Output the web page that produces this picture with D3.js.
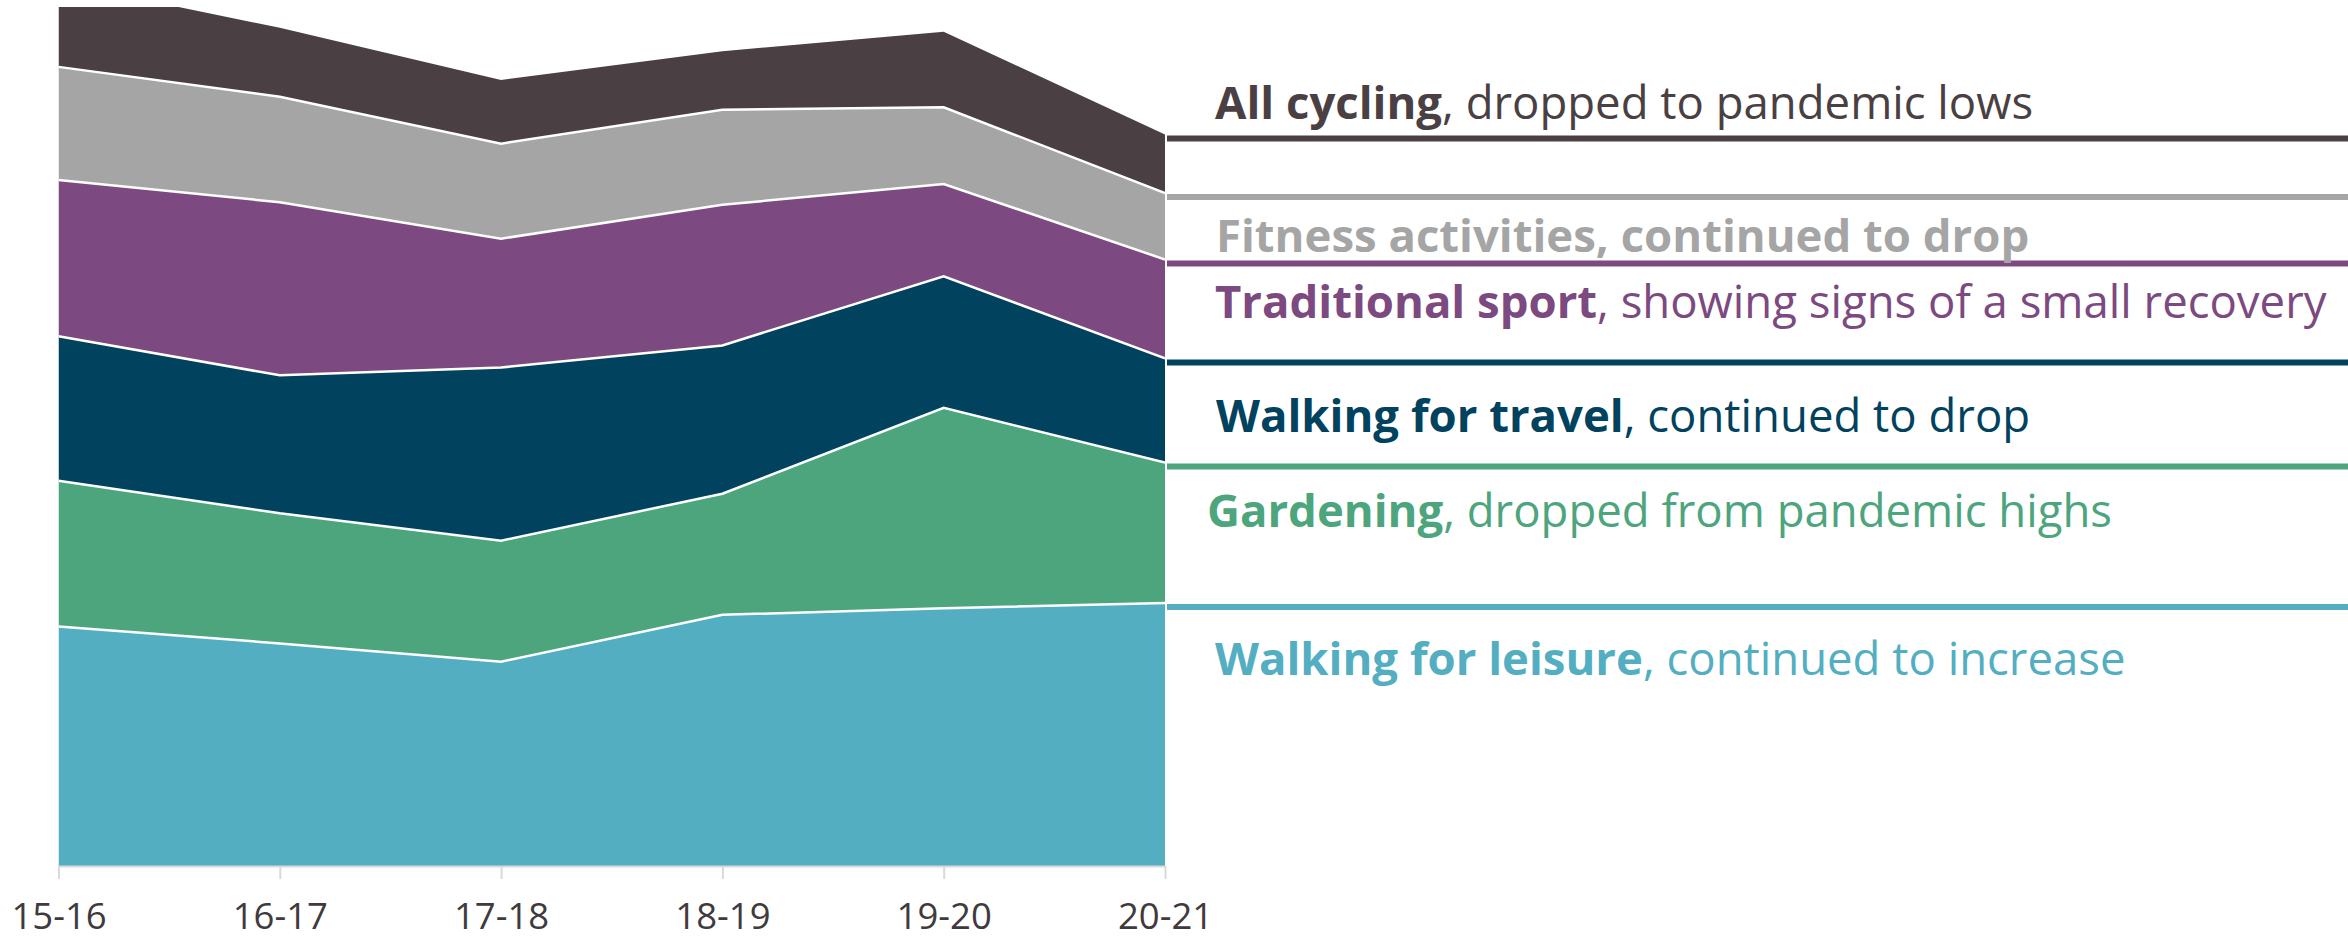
<!DOCTYPE html>
<html>
<head>
<meta charset="utf-8">
<script src="https://cdn.jsdelivr.net/npm/d3@7"></script>
<style>
  html, body { margin: 0; padding: 0; background: #ffffff; }
  svg { display: block; }
</style>
</head>
<body>
<svg id="chart" width="2348" height="940"></svg>
<script>
// ---- Data (approx. millions of adults) ----
const years = ["15-16", "16-17", "17-18", "18-19", "19-20", "20-21"];
const walkingLeisure = [18.4, 17.1, 15.7, 19.3, 19.8, 20.2];
const gardening      = [11.2, 10.0, 9.3, 9.3, 15.4, 10.8];
const walkingTravel  = [11.1, 10.6, 13.3, 11.4, 10.1, 8.0];
const traditionalSport = [12.0, 13.3, 9.9, 10.8, 7.1, 7.6];
const fitness        = [8.7, 8.1, 7.3, 7.3, 5.9, 5.1];
const allCycling     = [6.5, 5.3, 4.9, 4.5, 5.8, 4.5];

const seriesKeys = ["leisure", "gardening", "travel", "sport", "fitness", "cycling"];
const seriesValues = {
  leisure: walkingLeisure, gardening: gardening, travel: walkingTravel,
  sport: traditionalSport, fitness: fitness, cycling: allCycling
};
const seriesColors = {
  leisure: "#53aec2", gardening: "#4ca57d", travel: "#01425e",
  sport: "#7c4980", fitness: "#a5a5a5", cycling: "#4a4043"
};
const labelBold = {
  leisure: "Walking for leisure", gardening: "Gardening", travel: "Walking for travel",
  sport: "Traditional sport", fitness: "Fitness activities, continued to drop", cycling: "All cycling"
};
const labelRest = {
  leisure: ", continued to increase", gardening: ", dropped from pandemic highs",
  travel: ", continued to drop", sport: ", showing signs of a small recovery",
  fitness: "", cycling: ", dropped to pandemic lows"
};
const yMax = 66;

// ---- Layout ----
const svg = d3.select("#chart");
const plotLeft = 58.5, plotRight = 1165, plotTop = 7, plotBottom = 866;

const table = years.map((yr, i) => {
  const row = { year: yr };
  seriesKeys.forEach(k => row[k] = seriesValues[k][i]);
  return row;
});

const x = d3.scalePoint().domain(years).range([plotLeft, plotRight]);
const y = d3.scaleLinear().domain([0, yMax]).range([plotBottom, plotTop]);

const stacked = d3.stack().keys(seriesKeys)(table);

svg.append("defs").append("clipPath").attr("id", "plotclip")
  .append("rect").attr("x", plotLeft).attr("y", plotTop)
  .attr("width", plotRight - plotLeft).attr("height", plotBottom - plotTop);

const area = d3.area()
  .x(d => x(d.data.year))
  .y0(d => y(d[0]))
  .y1(d => y(d[1]));

const plot = svg.append("g").attr("clip-path", "url(#plotclip)");

plot.selectAll("path.area").data(stacked).join("path")
  .attr("class", "area")
  .attr("d", area)
  .attr("fill", s => seriesColors[s.key]);

const topLine = d3.line().x(d => x(d.data.year)).y(d => y(d[1]));
plot.selectAll("path.sep").data(stacked.slice(0, stacked.length - 1)).join("path")
  .attr("class", "sep")
  .attr("d", topLine)
  .attr("fill", "none")
  .attr("stroke", "#ffffff")
  .attr("stroke-width", 2.5);

// ---- Axis ----
const axis = svg.append("g").attr("transform", `translate(0,${plotBottom})`)
  .call(d3.axisBottom(x).tickSize(13).tickPadding(28).tickSizeOuter(0));
axis.select(".domain").attr("stroke", "#d9d9d9").attr("stroke-width", 2);
axis.selectAll(".tick line").attr("stroke", "#d9d9d9").attr("stroke-width", 2);
axis.selectAll(".tick text")
  .attr("fill", "#403a3d")
  .attr("font-family", "'Open Sans', sans-serif")
  .attr("font-size", 36.5)
  .attr("y", 63)
  .attr("dy", null);

// ---- Right-side annotation lines and labels ----
const lastIdx = years.length - 1;
const labelDy = { cycling: -20, fitness: 54.5, sport: 55, travel: 70, gardening: 60, leisure: 68 };
const labelX = { cycling: 1215, fitness: 1216, sport: 1215, travel: 1216, gardening: 1207, leisure: 1215 };

const ann = svg.append("g");
stacked.forEach(s => {
  const ly = y(s[lastIdx][1]) + 4;
  ann.append("line")
    .attr("x1", plotRight + 2).attr("x2", 2348)
    .attr("y1", ly).attr("y2", ly)
    .attr("stroke", seriesColors[s.key])
    .attr("stroke-width", 6);
  const t = ann.append("text")
    .attr("x", labelX[s.key])
    .attr("y", ly + labelDy[s.key])
    .attr("fill", seriesColors[s.key])
    .attr("font-family", "'Open Sans', sans-serif")
    .attr("font-size", 45.5);
  t.append("tspan").attr("font-weight", "bold").text(labelBold[s.key]);
  if (labelRest[s.key]) t.append("tspan").text(labelRest[s.key]);
});
</script>
</body>
</html>
